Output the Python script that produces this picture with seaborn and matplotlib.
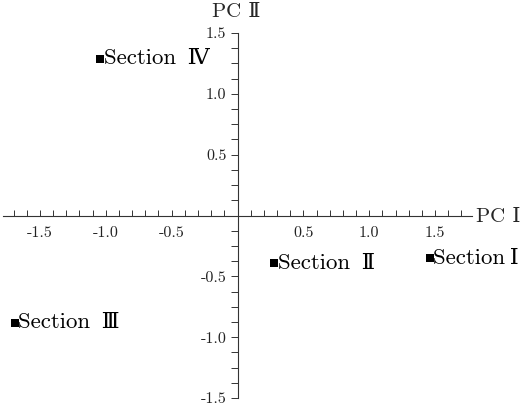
import matplotlib
matplotlib.use("Agg")
import matplotlib.pyplot as plt
import seaborn as sns
import pandas as pd
from matplotlib.ticker import FixedLocator, MultipleLocator

# ---- data ----
sections = ["Section Ⅰ", "Section Ⅱ", "Section Ⅲ", "Section Ⅳ"]
pc1 = [1.46, 0.28, -1.69, -1.04]
pc2 = [-0.35, -0.39, -0.88, 1.29]
x_ticks = [-1.5, -1.0, -0.5, 0.5, 1.0, 1.5]
x_tick_labels = ["-1.5", "-1.0", "-0.5", "0.5", "1.0", "1.5"]
y_ticks = [-1.5, -1.0, -0.5, 0.5, 1.0, 1.5]
y_tick_labels = ["-1.5", "-1.0", "-0.5", "0.5", "1.0", "1.5"]
x_label = "PC Ⅰ"
y_label = "PC Ⅱ"

df = pd.DataFrame({"section": sections, "pc1": pc1, "pc2": pc2})

sns.set_style("ticks")
plt.rcParams["font.family"] = ["cmr10", "DejaVu Serif", "Noto Sans CJK SC"]
plt.rcParams["axes.unicode_minus"] = False
plt.rcParams["axes.formatter.use_mathtext"] = True

fig = plt.figure(figsize=(5.24, 4.09), dpi=100)
W, H = 524, 409
left_px, right_px = 3, 472
top_px, bot_px = 33, 398
ax = fig.add_axes([left_px / W, 1 - bot_px / H, (right_px - left_px) / W, (bot_px - top_px) / H])

sns.scatterplot(data=df, x="pc1", y="pc2", marker="s", s=26, color="black",
                edgecolor="black", linewidth=0, ax=ax, legend=False, zorder=3)

for name, xv, yv in zip(sections, pc1, pc2):
    sep = "\u2009" if name.endswith("Ⅰ") else "\u2002"
    ax.annotate(name.replace(" ", sep), (xv, yv), xytext=(2.5, 0),
                textcoords="offset points", ha="left", va="center",
                fontsize=16.5, color="black", annotation_clip=False)

ax.set_xlim(-1.78, 1.78)
ax.set_ylim(-1.5, 1.5)

for s in ["top", "right"]:
    ax.spines[s].set_visible(False)
ax.spines["left"].set_position(("data", 0))
ax.spines["bottom"].set_position(("data", 0))
for s in ["left", "bottom"]:
    ax.spines[s].set_linewidth(0.8)
    ax.spines[s].set_color("#333333")

ax.xaxis.set_major_locator(FixedLocator(x_ticks))
ax.set_xticklabels(x_tick_labels)
ax.xaxis.set_minor_locator(MultipleLocator(0.1))
ax.yaxis.set_major_locator(FixedLocator(y_ticks))
ax.set_yticklabels(y_tick_labels)
ax.yaxis.set_minor_locator(MultipleLocator(0.125))

ax.tick_params(axis="x", which="both", direction="in", length=4, width=0.7,
               labelsize=11.5, pad=8, colors="#333333", labelcolor="#222222")
ax.tick_params(axis="y", which="both", direction="out", length=5, width=0.7,
               labelsize=11.5, pad=3, colors="#333333", labelcolor="#222222")

ax.set_xlabel("")
ax.set_ylabel("")
fig.text(476 / W, 1 - 217 / H, x_label, ha="left", va="center", fontsize=15)
fig.text(236 / W, 1 - 12 / H, y_label, ha="center", va="center", fontsize=15)

fig.savefig("out.png", dpi=100)
